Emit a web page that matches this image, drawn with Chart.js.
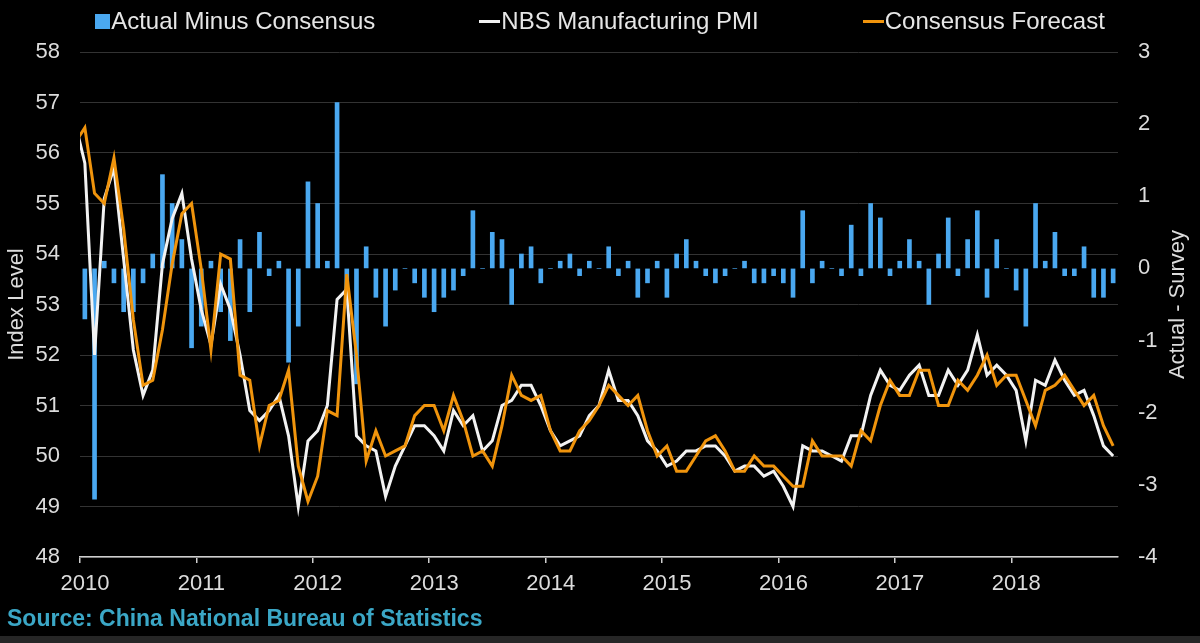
<!DOCTYPE html>
<html>
<head>
<meta charset="utf-8">
<title>China NBS Manufacturing PMI vs Consensus</title>
<script src="https://cdn.jsdelivr.net/npm/chart.js@4.4.1/dist/chart.umd.min.js"></script>
<style>
  html, body { margin: 0; padding: 0; background: #000; }
  #wrap {
    position: relative; width: 1200px; height: 643px; background: #000; overflow: hidden;
    font-family: "Liberation Sans", Arial, sans-serif;
  }
  #chart { position: absolute; left: 0; top: 0; }
  #legend {
    position: absolute; top: 7px; left: 0; width: 1200px;
    display: flex; justify-content: center; gap: 104px;
    color: #e6e6e6; font-size: 24px; line-height: 28px;
  }
  #legend .item { display: flex; align-items: center; white-space: nowrap; }
  #legend .box { display: inline-block; width: 15px; height: 15px; margin-right: 1px; }
  #legend .line { display: inline-block; width: 21px; height: 3px; margin-right: 1px; }
  #source {
    position: absolute; left: 7px; top: 605px;
    color: #3ba7c6; font-weight: bold; font-size: 23px;
  }
  #strip { position: absolute; left: 0; top: 636px; width: 1200px; height: 7px; background: #262626; }
</style>
</head>
<body>
<div id="wrap">
  <canvas id="chart" width="1200" height="643"></canvas>
  <div id="legend"></div>
  <div id="source">Source: China National Bureau of Statistics</div>
  <div id="strip"></div>
</div>
<script>
// months from Dec 2009 to Nov 2018 (Dec 2009 only enters from the left edge)
const months = [];
for (let y = 2009; y <= 2018; y++) {
  for (let m = 1; m <= 12; m++) {
    if ((y === 2009 && m < 12) || (y === 2018 && m > 11)) continue;
    months.push(y + '-' + String(m).padStart(2, '0'));
  }
}
const yearLabels = ['2010', '2011', '2012', '2013', '2014', '2015', '2016', '2017', '2018'];

// NBS Manufacturing PMI (actual)
const pmi = [56.6,
  55.8, 52.0, 55.1, 55.7, 53.9, 52.1, 51.2, 51.7, 53.8, 54.7, 55.2, 53.9,
  52.9, 52.2, 53.4, 52.9, 52.0, 50.9, 50.7, 50.9, 51.2, 50.4, 49.0, 50.3,
  50.5, 51.0, 53.1, 53.3, 50.4, 50.2, 50.1, 49.2, 49.8, 50.2, 50.6, 50.6,
  50.4, 50.1, 50.9, 50.6, 50.8, 50.1, 50.3, 51.0, 51.1, 51.4, 51.4, 51.0,
  50.5, 50.2, 50.3, 50.4, 50.8, 51.0, 51.7, 51.1, 51.1, 50.8, 50.3, 50.1,
  49.8, 49.9, 50.1, 50.1, 50.2, 50.2, 50.0, 49.7, 49.8, 49.8, 49.6, 49.7,
  49.4, 49.0, 50.2, 50.1, 50.1, 50.0, 49.9, 50.4, 50.4, 51.2, 51.7, 51.4,
  51.3, 51.6, 51.8, 51.2, 51.2, 51.7, 51.4, 51.7, 52.4, 51.6, 51.8, 51.6,
  51.3, 50.3, 51.5, 51.4, 51.9, 51.5, 51.2, 51.3, 50.8, 50.2, 50.0];

// Consensus forecast
const consensus = [56.2,
  56.5, 55.2, 55.0, 55.9, 54.5, 52.7, 51.4, 51.5, 52.5, 53.8, 54.8, 55.0,
  53.7, 52.1, 54.0, 53.9, 51.6, 51.5, 50.2, 51.0, 51.1, 51.7, 49.8, 49.1,
  49.6, 50.9, 50.8, 53.6, 52.0, 49.9, 50.5, 50.0, 50.1, 50.2, 50.8, 51.0,
  51.0, 50.5, 51.2, 50.7, 50.0, 50.1, 49.8, 50.6, 51.6, 51.2, 51.1, 51.2,
  50.5, 50.1, 50.1, 50.5, 50.7, 51.0, 51.4, 51.2, 51.0, 51.2, 50.5, 50.0,
  50.2, 49.7, 49.7, 50.0, 50.3, 50.4, 50.1, 49.7, 49.7, 50.0, 49.8, 49.8,
  49.6, 49.4, 49.4, 50.3, 50.0, 50.0, 50.0, 49.8, 50.5, 50.3, 51.0, 51.5,
  51.2, 51.2, 51.7, 51.7, 51.0, 51.0, 51.5, 51.3, 51.6, 52.0, 51.4, 51.6,
  51.6, 51.1, 50.6, 51.3, 51.4, 51.6, 51.3, 51.0, 51.2, 50.6, 50.2];

// Actual minus consensus (right axis)
const surprise = [null,
  -0.7, -3.2, 0.1, -0.2, -0.6, -0.6, -0.2, 0.2, 1.3, 0.9, 0.4, -1.1,
  -0.8, 0.1, -0.6, -1.0, 0.4, -0.6, 0.5, -0.1, 0.1, -1.3, -0.8, 1.2,
  0.9, 0.1, 2.3, -0.3, -1.6, 0.3, -0.4, -0.8, -0.3, 0.0, -0.2, -0.4,
  -0.6, -0.4, -0.3, -0.1, 0.8, 0.0, 0.5, 0.4, -0.5, 0.2, 0.3, -0.2,
  0.0, 0.1, 0.2, -0.1, 0.1, 0.0, 0.3, -0.1, 0.1, -0.4, -0.2, 0.1,
  -0.4, 0.2, 0.4, 0.1, -0.1, -0.2, -0.1, 0.0, 0.1, -0.2, -0.2, -0.1,
  -0.2, -0.4, 0.8, -0.2, 0.1, 0.0, -0.1, 0.6, -0.1, 0.9, 0.7, -0.1,
  0.1, 0.4, 0.1, -0.5, 0.2, 0.7, -0.1, 0.4, 0.8, -0.4, 0.4, 0.0,
  -0.3, -0.8, 0.9, 0.1, 0.5, -0.1, -0.1, 0.3, -0.4, -0.4, -0.2];

// month label -> position on a month axis starting Jan 2010 (mid-month)
function monthPos(label) {
  const [y, m] = label.split('-').map(Number);
  return (y - 2010) * 12 + (m - 1) + 0.5;
}
const toPoints = arr => months.map((m, i) => ({ x: monthPos(m), y: arr[i] }));

const textColor = '#dcdcdc';
const font = { family: '"Liberation Sans", Arial, sans-serif', size: 22 };

// right axis title reads bottom-to-top, so draw it by hand
const rightTitle = {
  id: 'rightTitle',
  afterDraw(chart) {
    const { ctx, chartArea } = chart;
    ctx.save();
    ctx.translate(chart.scales.y2.right - 22, (chartArea.top + chartArea.bottom) / 2);
    ctx.rotate(-Math.PI / 2);
    ctx.font = '22px "Liberation Sans", Arial, sans-serif';
    ctx.fillStyle = textColor;
    ctx.textAlign = 'center';
    ctx.textBaseline = 'middle';
    ctx.fillText('Actual - Survey', 0, 0);
    ctx.restore();
  }
};

const chart = new Chart(document.getElementById('chart'), {
  type: 'bar',
  data: {
    datasets: [
      {
        label: 'Actual Minus Consensus',
        data: toPoints(surprise),
        backgroundColor: '#4aa8f0',
        barThickness: 4,
        yAxisID: 'y2',
        order: 3
      },
      {
        type: 'line',
        label: 'NBS Manufacturing PMI',
        data: toPoints(pmi),
        borderColor: '#f2f2f2',
        borderWidth: 3,
        pointRadius: 0,
        tension: 0,
        yAxisID: 'y',
        order: 2
      },
      {
        type: 'line',
        label: 'Consensus Forecast',
        data: toPoints(consensus),
        borderColor: '#f0940c',
        borderWidth: 3,
        pointRadius: 0,
        tension: 0,
        yAxisID: 'y',
        order: 1
      }
    ]
  },
  options: {
    responsive: false,
    animation: false,
    layout: { padding: { top: 52, bottom: 0, left: 0, right: 0 } },
    plugins: {
      legend: { display: false },
      tooltip: { enabled: false }
    },
    scales: {
      x: {
        type: 'linear',
        min: 0,
        max: 107,
        offset: false,
        afterBuildTicks: s => { s.ticks = yearLabels.map((_, k) => ({ value: k * 12 })); },
        afterFit: s => { s.height = 86; },
        ticks: {
          color: textColor, font, padding: 8, labelOffset: 5, maxRotation: 0, autoSkip: false,
          callback: (v) => yearLabels[Math.round(v / 12)]
        },
        grid: { offset: false, drawOnChartArea: false, drawTicks: true, tickLength: 6, color: '#cfcfcf', lineWidth: 1.5 },
        border: { display: true, color: '#cfcfcf', width: 1.5 }
      },
      y: {
        position: 'left',
        min: 48,
        max: 58,
        afterFit: s => { s.width = 80; },
        ticks: { stepSize: 1, color: textColor, font, padding: 20 },
        grid: { color: '#333333', lineWidth: 1, drawTicks: false },
        border: { display: false },
        title: { display: true, text: 'Index Level', color: textColor, font, padding: { top: 4, bottom: 4 } }
      },
      y2: {
        position: 'right',
        min: -4,
        max: 3,
        afterFit: s => { s.width = 82; },
        ticks: { stepSize: 1, color: textColor, font, padding: 20 },
        grid: { drawOnChartArea: false, drawTicks: false },
        border: { display: false }
      }
    }
  },
  plugins: [rightTitle]
});

// html legend in dataset order
const legend = document.getElementById('legend');
chart.data.datasets.forEach(ds => {
  const item = document.createElement('span');
  item.className = 'item';
  const mark = document.createElement('i');
  if (ds.type === 'line') {
    mark.className = 'line';
    mark.style.background = ds.borderColor;
  } else {
    mark.className = 'box';
    mark.style.background = ds.backgroundColor;
  }
  item.appendChild(mark);
  item.appendChild(document.createTextNode(ds.label));
  legend.appendChild(item);
});
</script>
</body>
</html>
